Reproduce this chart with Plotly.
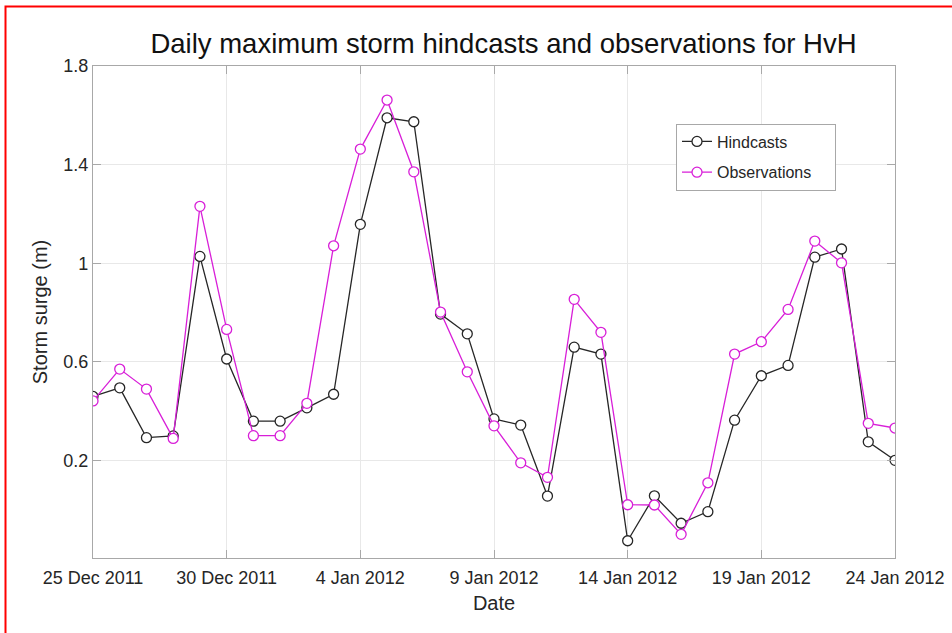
import pandas as pd
import plotly.graph_objects as go

# Daily maximum storm surge (m) at HvH, 25 Dec 2011 - 24 Jan 2012
dates = pd.date_range("2011-12-25", "2012-01-24", freq="D")
hindcasts = [0.46, 0.495, 0.293, 0.30, 1.028, 0.612, 0.36, 0.36, 0.414, 0.469,
             1.158, 1.59, 1.574, 0.794, 0.714, 0.369, 0.344, 0.056, 0.66, 0.632,
             -0.125, 0.057, -0.054, -0.007, 0.364, 0.544, 0.586, 1.025, 1.058,
             0.276, 0.201]
observations = [0.442, 0.571, 0.49, 0.29, 1.231, 0.732, 0.301, 0.301, 0.432,
                1.071, 1.463, 1.662, 1.371, 0.802, 0.56, 0.341, 0.191, 0.132,
                0.854, 0.72, 0.021, 0.020, -0.099, 0.11, 0.632, 0.682, 0.813,
                1.09, 1.002, 0.351, 0.332]

x_ticks = pd.date_range("2011-12-25", "2012-01-24", freq="5D")
x_ticktext = [f"{d.day} {d.strftime('%b %Y')}" for d in x_ticks]
y_ticks = [0.2, 0.6, 1.0, 1.4, 1.8]
y_ticktext = ["0.2", "0.6", "1", "1.4", "1.8"]

FONT = "Liberation Sans, Arial, sans-serif"
TEXT = "#262626"
PAD = "\u00a0" * 4  # extra room on the right of the legend labels

fig = go.Figure()
fig.add_trace(go.Scatter(
    x=dates, y=hindcasts, name="Hindcasts" + PAD, mode="lines+markers",
    line=dict(color="#262626", width=1.3),
    marker=dict(symbol="circle", size=10, color="white",
                line=dict(color="#262626", width=1.3)),
    legendgroup="h",
))
fig.add_trace(go.Scatter(
    x=dates, y=observations, name="Observations" + PAD, mode="lines+markers",
    line=dict(color="#d81fd8", width=1.3),
    marker=dict(symbol="circle", size=10, color="white",
                line=dict(color="#d81fd8", width=1.3)),
    legendgroup="o",
))

L, R, T, B = 93, 57, 66, 75
W, H = 952, 633
pw, ph = W - L - R, H - T - B

def px_x(p):
    return (p - L) / pw

def px_y(p):
    return 1 - (p - T) / ph

axis_common = dict(
    showline=True, linecolor="#a8a8a8", linewidth=1.2, mirror="all",
    ticks="inside", ticklen=8, tickcolor="#a8a8a8", tickwidth=1,
    showgrid=True, gridcolor="#e8e8e8", gridwidth=1,
    zeroline=False, automargin=False,
    tickfont=dict(family=FONT, size=18, color=TEXT),
)

fig.update_layout(
    width=W, height=H,
    margin=dict(l=L, r=R, t=T, b=B, autoexpand=False),
    paper_bgcolor="white", plot_bgcolor="white",
    font=dict(family=FONT, color=TEXT),
    title=dict(
        text="Daily maximum storm hindcasts and observations for HvH",
        font=dict(family=FONT, size=27.5, color="#111111"),
        x=503.5 / W, xanchor="center", xref="container",
        y=1 - 43 / H, yanchor="middle", yref="container",
    ),
    xaxis=dict(
        axis_common,
        type="date",
        range=[dates[0], dates[-1]],
        tickvals=x_ticks, ticktext=x_ticktext,
        ticklabelstandoff=3,
        title=dict(text="Date", font=dict(family=FONT, size=20, color=TEXT),
                   standoff=9),
    ),
    yaxis=dict(
        axis_common,
        range=[-0.195, 1.8],
        tickvals=y_ticks, ticktext=y_ticktext,
        title=dict(text="Storm surge (m)",
                   font=dict(family=FONT, size=20, color=TEXT), standoff=10),
    ),
    legend=dict(
        x=px_x(676), y=px_y(123.5), xanchor="left", yanchor="top",
        bgcolor="white", bordercolor="#a8a8a8", borderwidth=1,
        font=dict(family=FONT, size=16, color=TEXT),
        tracegroupgap=7, traceorder="grouped",
    ),
    showlegend=True,
    shapes=[
        # red frame around the figure
        dict(type="rect", xref="paper", yref="paper",
             x0=px_x(5.5), x1=px_x(W + 20), y0=px_y(H + 20), y1=px_y(6.5),
             line=dict(color="#ff0000", width=2), fillcolor="rgba(0,0,0,0)",
             layer="above"),
    ],
)

fig.write_html("out.html")
